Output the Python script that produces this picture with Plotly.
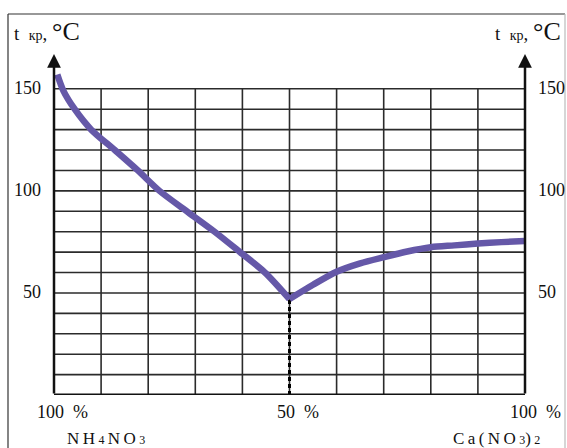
import plotly.graph_objects as go

# Data: crystallisation temperature vs composition (% Ca(NO3)2 from left to right)
x_left = [0.7, 2, 4.4, 7.9, 12.9, 17.8, 22.4, 28.5, 34.1, 39.5, 44.8, 50]
y_left = [157, 149, 140, 130, 120, 110, 100, 89.5, 80, 70, 60, 47]
x_right = [50, 55, 60, 65, 70, 75, 80, 85, 90, 95, 100]
y_right = [47, 54, 60.4, 64.5, 67.5, 70.3, 72.4, 73.3, 74.2, 74.9, 75.5]

x_grid = [10, 20, 30, 40, 50, 60, 70, 80, 90]
y_grid = [10, 20, 30, 40, 50, 60, 70, 80, 90, 100, 110, 120, 130, 140, 150]
y_tick_vals = [50, 100, 150]
y_tick_text = ["50", "100", "150"]
x_tick_vals = [0, 50, 100]
x_tick_text = ["100\u00a0\u00a0%", "50\u00a0\u00a0%", "100\u00a0\u00a0%"]
x_tick_shift = [8, 8, 10]
eutectic_x = 50
eutectic_top = 51

FONT = "Liberation Serif"
CURVE = "#6558a8"
GRIDC = "#2b2b2b"

fig = go.Figure()

# dotted eutectic line
fig.add_trace(go.Scatter(x=[eutectic_x, eutectic_x], y=[0, eutectic_top], mode="lines",
                         line=dict(color="black", width=3, dash="4px,3px"),
                         hoverinfo="skip", showlegend=False))
fig.add_trace(go.Scatter(x=x_left, y=y_left, mode="lines",
                         line=dict(color=CURVE, width=6.5, shape="spline", smoothing=0.8),
                         showlegend=False, cliponaxis=False))
fig.add_trace(go.Scatter(x=x_right, y=y_right, mode="lines",
                         line=dict(color=CURVE, width=6.5, shape="spline", smoothing=0.8),
                         showlegend=False, cliponaxis=False))

shapes = []
for gx in x_grid:
    shapes.append(dict(type="line", xref="x", yref="y", x0=gx, x1=gx, y0=0, y1=150,
                       line=dict(color=GRIDC, width=1.6), layer="below"))
for gy in y_grid:
    shapes.append(dict(type="line", xref="x", yref="y", x0=0, x1=100, y0=gy, y1=gy,
                       line=dict(color=GRIDC, width=1.6), layer="below"))
# bottom axis
shapes.append(dict(type="line", xref="x", yref="y", x0=0, x1=100, y0=0, y1=0,
                   line=dict(color="#111", width=3)))
# outer frame
L, R, T, B = 54, 42, 48, 53
W, H = 567, 448
pw, ph = W - L - R, H - T - B
def px_to_paper_x(px):
    return (px - L) / pw
def px_to_paper_y(py):
    return (H - B - py) / ph
shapes.append(dict(type="line", xref="paper", yref="paper",
                   x0=px_to_paper_x(8), x1=px_to_paper_x(565), y0=px_to_paper_y(14), y1=px_to_paper_y(14),
                   line=dict(color="#333", width=1.2)))
shapes.append(dict(type="line", xref="paper", yref="paper",
                   x0=px_to_paper_x(8), x1=px_to_paper_x(8), y0=px_to_paper_y(14), y1=px_to_paper_y(460),
                   line=dict(color="#333", width=1.2)))
shapes.append(dict(type="line", xref="paper", yref="paper",
                   x0=px_to_paper_x(565), x1=px_to_paper_x(565), y0=px_to_paper_y(14), y1=px_to_paper_y(460),
                   line=dict(color="#bbb", width=1.2)))

ann = []
# vertical axes with arrows
for ax_x in (0, 100):
    ann.append(dict(x=ax_x, y=167, ax=ax_x, ay=0, xref="x", yref="y", axref="x", ayref="y",
                    showarrow=True, arrowhead=2, arrowsize=1.1, arrowwidth=2.5,
                    arrowcolor="#111", text=""))
# y tick labels both sides
for v, t in zip(y_tick_vals, y_tick_text):
    ann.append(dict(x=0, y=v, xref="x", yref="y", text=t, showarrow=False,
                    xanchor="right", yanchor="middle", xshift=-11, yshift=1,
                    font=dict(family=FONT, size=18, color="#111")))
    ann.append(dict(x=100, y=v, xref="x", yref="y", text=t, showarrow=False,
                    xanchor="left", yanchor="middle", xshift=11, yshift=1,
                    font=dict(family=FONT, size=18, color="#111")))
# x tick labels
for v, t, s in zip(x_tick_vals, x_tick_text, x_tick_shift):
    ann.append(dict(x=v, y=0, xref="x", yref="y", text=t, showarrow=False,
                    xanchor="center", yanchor="middle", xshift=s, yshift=-17,
                    font=dict(family=FONT, size=18, color="#111")))
# component names
SUB = "<span style='font-size:12px'>%s</span>"
ann.append(dict(x=0, y=0, xref="x", yref="y",
                text="N\u2009H\u2009" + SUB % "4" + "\u2009N\u2009O\u2009" + SUB % "3",
                showarrow=False, xanchor="center", yanchor="middle", xshift=52, yshift=-43,
                font=dict(family=FONT, size=17, color="#111")))
ann.append(dict(x=100, y=0, xref="x", yref="y",
                text="C\u2009a\u2009(\u2009N\u2009O\u2009" + SUB % "3" + ")\u2009" + SUB % "2",
                showarrow=False, xanchor="center", yanchor="middle", xshift=-29, yshift=-43,
                font=dict(family=FONT, size=17, color="#111")))
# axis titles
title_txt = ("t\u00a0\u00a0<span style='font-size:14px'>кр</span>,\u00a0"
             "<span style='font-size:26px'>°C</span>")
ann.append(dict(x=0, y=170, xref="x", yref="y", text=title_txt, showarrow=False,
                xanchor="left", yanchor="middle", xshift=-42, yshift=17,
                font=dict(family=FONT, size=19, color="#111")))
ann.append(dict(x=100, y=170, xref="x", yref="y", text=title_txt, showarrow=False,
                xanchor="right", yanchor="middle", xshift=38, yshift=17,
                font=dict(family=FONT, size=19, color="#111")))

fig.update_layout(
    width=W, height=H,
    margin=dict(l=L, r=R, t=T, b=B),
    paper_bgcolor="white", plot_bgcolor="white",
    xaxis=dict(range=[0, 100], showgrid=False, zeroline=False, showticklabels=False,
               showline=False, ticks=""),
    yaxis=dict(range=[0, 170], showgrid=False, zeroline=False, showticklabels=False,
               showline=False, ticks=""),
    shapes=shapes, annotations=ann, showlegend=False,
)

fig.write_html("out.html", config={"displayModeBar": False},
               post_script="document.body.style.margin='0px';document.body.style.overflow='hidden';")
